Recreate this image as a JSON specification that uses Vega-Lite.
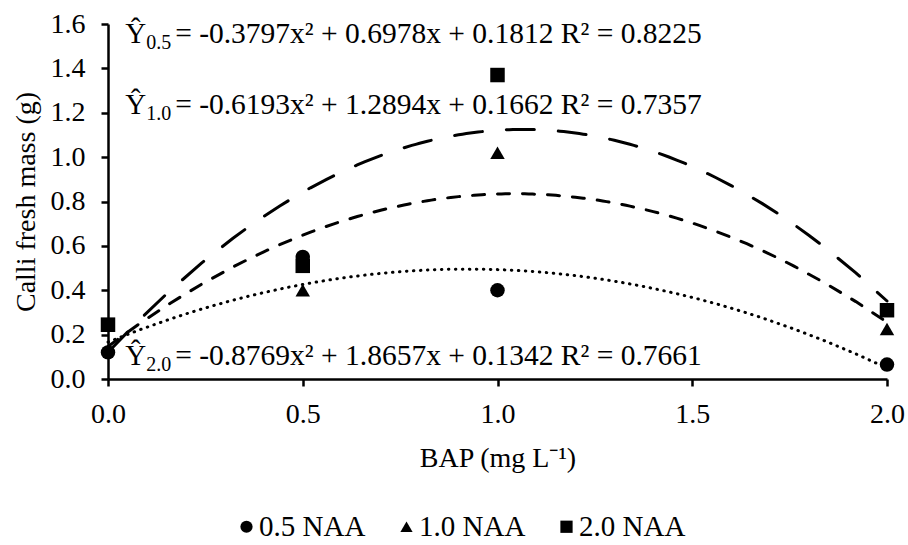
{
  "$schema": "https://vega.github.io/schema/vega-lite/v6.json",
  "autosize": {"type": "none"},
  "padding": {"left": 108, "top": 24, "right": 21, "bottom": 166},
  "width": 779,
  "height": 355,
  "background": "white",
  "config": {
    "font": "Liberation Serif",
    "view": {"stroke": null},
    "axis": {
      "grid": false,
      "domainColor": "black",
      "domainWidth": 2.5,
      "tickColor": "black",
      "tickWidth": 2.5,
      "tickSize": 7,
      "labelColor": "black",
      "labelFont": "Liberation Serif",
      "labelFontSize": 28,
      "labelFlush": false,
      "labelOverlap": false,
      "titleFont": "Liberation Serif",
      "titleFontSize": 28,
      "titleFontWeight": "normal",
      "titleColor": "black"
    },
    "legend": {
      "labelFont": "Liberation Serif",
      "labelFontSize": 29,
      "labelColor": "black"
    }
  },
  "data": {
    "values": [
      {"series": "0.5 NAA", "bap": 0, "mass": 0.12},
      {"series": "0.5 NAA", "bap": 0.5, "mass": 0.55},
      {"series": "0.5 NAA", "bap": 1, "mass": 0.40},
      {"series": "0.5 NAA", "bap": 2, "mass": 0.065},
      {"series": "1.0 NAA", "bap": 0, "mass": 0.24},
      {"series": "1.0 NAA", "bap": 0.5, "mass": 0.40},
      {"series": "1.0 NAA", "bap": 1, "mass": 1.02},
      {"series": "1.0 NAA", "bap": 2, "mass": 0.225},
      {"series": "2.0 NAA", "bap": 0, "mass": 0.245},
      {"series": "2.0 NAA", "bap": 0.5, "mass": 0.51},
      {"series": "2.0 NAA", "bap": 1, "mass": 1.37},
      {"series": "2.0 NAA", "bap": 2, "mass": 0.31}
    ]
  },
  "layer": [
    {
      "transform": [
        {"regression": "mass", "on": "bap", "groupby": ["series"], "method": "poly", "order": 2, "extent": [0, 2]}
      ],
      "mark": {"type": "line", "color": "black", "strokeWidth": 3, "strokeCap": "round"},
      "encoding": {
        "x": {"field": "bap", "type": "quantitative"},
        "y": {"field": "mass", "type": "quantitative"},
        "detail": {"field": "series"},
        "strokeDash": {
          "field": "series",
          "type": "nominal",
          "scale": {"domain": ["2.0 NAA", "1.0 NAA", "0.5 NAA"], "range": [[28, 24], [12, 13], [0.5, 6.5]]},
          "legend": null
        }
      }
    },
    {
      "mark": {"type": "point", "filled": true, "color": "black", "size": 210, "opacity": 1},
      "encoding": {
        "x": {
          "field": "bap", "type": "quantitative",
          "scale": {"domain": [0, 2], "nice": false, "zero": false},
          "axis": {"values": [0, 0.5, 1, 1.5, 2], "format": ".1f", "labelPadding": 14, "title": "BAP (mg L⁻¹)", "titlePadding": 16}
        },
        "y": {
          "field": "mass", "type": "quantitative",
          "scale": {"domain": [0, 1.6], "nice": false},
          "axis": {"values": [0, 0.2, 0.4, 0.6, 0.8, 1.0, 1.2, 1.4, 1.6], "format": ".1f", "labelPadding": 16, "title": "Calli fresh mass (g)", "titlePadding": 10}
        },
        "shape": {
          "field": "series", "type": "nominal",
          "scale": {"domain": ["0.5 NAA", "1.0 NAA", "2.0 NAA"], "range": ["circle", "triangle-up", "square"]},
          "legend": {
            "title": null,
            "orient": "none",
            "direction": "horizontal",
            "legendX": 124,
            "legendY": 488,
            "symbolSize": 150,
            "symbolFillColor": "black",
            "symbolStrokeColor": "black",
            "symbolStrokeWidth": 0,
            "labelOffset": -2,
            "columnPadding": 26
          }
        }
      }
    },
    {
      "data": {
        "values": [
          {"sub": "0.5", "rest": "= -0.3797x² + 0.6978x + 0.1812 R² = 0.8225", "px": 0.044, "py": 1.554},
          {"sub": "1.0", "rest": "= -0.6193x² + 1.2894x + 0.1662 R² = 0.7357", "px": 0.044, "py": 1.234},
          {"sub": "2.0", "rest": "= -0.8769x² + 1.8657x + 0.1342 R² = 0.7661", "px": 0.044, "py": 0.104}
        ]
      },
      "layer": [
        {
          "mark": {"type": "text", "align": "left", "baseline": "middle", "fontSize": 29, "color": "black", "font": "Liberation Serif"},
          "encoding": {
            "x": {"field": "px", "type": "quantitative"},
            "y": {"field": "py", "type": "quantitative"},
            "text": {"value": "Ŷ"}
          }
        },
        {
          "mark": {"type": "text", "align": "left", "baseline": "middle", "fontSize": 20, "dx": 21, "dy": 9, "color": "black", "font": "Liberation Serif"},
          "encoding": {
            "x": {"field": "px", "type": "quantitative"},
            "y": {"field": "py", "type": "quantitative"},
            "text": {"field": "sub"}
          }
        },
        {
          "mark": {"type": "text", "align": "left", "baseline": "middle", "fontSize": 29.5, "dx": 50, "color": "black", "font": "Liberation Serif"},
          "encoding": {
            "x": {"field": "px", "type": "quantitative"},
            "y": {"field": "py", "type": "quantitative"},
            "text": {"field": "rest"}
          }
        }
      ]
    }
  ]
}
